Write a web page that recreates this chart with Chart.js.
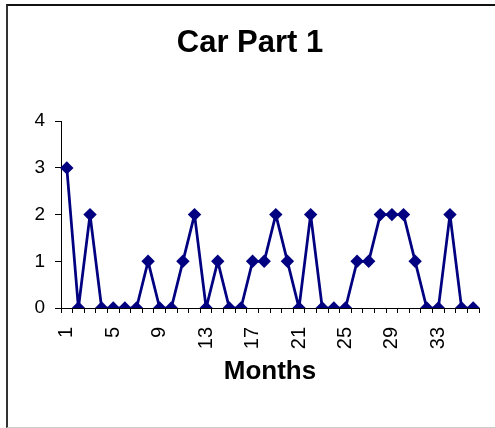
<!DOCTYPE html>
<html>
<head>
<meta charset="utf-8">
<script src="https://cdn.jsdelivr.net/npm/chart.js@4.4.1/dist/chart.umd.min.js"></script>
<style>
  html, body { margin: 0; padding: 0; background: #fff; }
  #wrap { position: relative; width: 495px; height: 428px; overflow: hidden; }
  #frame {
    position: absolute; left: 6px; top: 4px; width: 495px; height: 424px;
    border-left: 2px solid #333; border-top: 2px solid #111;
    border-bottom: 1px solid #ccc; box-sizing: border-box;
  }
  canvas { position: absolute; left: 0; top: 0; }
</style>
</head>
<body>
<div id="wrap">
  <div id="frame"></div>
  <canvas id="grafico" width="495" height="428"></canvas>
</div>
<script>
// datos del gráfico
const meses = [];
for (let i = 1; i <= 36; i++) meses.push(String(i));
const valores = [3, 0, 2, 0, 0, 0, 0, 1, 0, 0, 1, 2, 0, 1, 0, 0, 1, 1, 2, 1, 0, 2, 0, 0, 0, 1, 1, 2, 2, 2, 1, 0, 0, 2, 0, 0];
const ticksY = [0, 1, 2, 3, 4];

const azul = '#000080';
const fuente = 'Arial, "Liberation Sans"';

const ctx = document.getElementById('grafico').getContext('2d');
new Chart(ctx, {
    type: 'line',
    data: {
        labels: meses,
        datasets: [{
            label: 'Car Part 1',
            data: valores,
            borderColor: azul,
            backgroundColor: azul,
            borderWidth: 2.75,
            borderJoinStyle: 'round',
            pointStyle: 'rectRot',
            pointRadius: 6.7,
            pointHoverRadius: 6.7,
            pointBorderWidth: 0,
            tension: 0
        }]
    },
    options: {
        responsive: false,
        animation: false,
        devicePixelRatio: 1,
        layout: { padding: { left: 21, right: 16, top: 4, bottom: 41 } },
        plugins: {
            legend: { display: false },
            tooltip: { enabled: false },
            title: {
                display: true,
                text: 'Car Part 1',
                color: '#000',
                font: { family: fuente, size: 31, weight: 'bold' },
                padding: { top: 21, bottom: 59 }
            }
        },
        scales: {
            x: {
                type: 'category',
                offset: true,
                afterFit: function (scale) {
                    scale.height = 79;
                    scale.paddingLeft = 0;
                    scale.paddingRight = 0;
                },
                grid: {
                    offset: true,
                    drawOnChartArea: false,
                    drawTicks: true,
                    tickLength: 5,
                    color: '#000'
                },
                border: { color: '#000', width: 1 },
                ticks: {
                    autoSkip: false,
                    maxRotation: 90,
                    minRotation: 90,
                    padding: 14,
                    color: '#000',
                    font: { family: fuente, size: 20 },
                    callback: function (v, i) { return i % 4 === 0 ? meses[i] : ''; }
                },
                title: {
                    display: true,
                    text: 'Months',
                    color: '#000',
                    font: { family: fuente, size: 26, weight: 'bold' },
                    padding: { top: 5, bottom: 0 }
                }
            },
            y: {
                min: ticksY[0],
                max: ticksY[ticksY.length - 1],
                afterFit: function (scale) { scale.width = 40; },
                grid: {
                    drawOnChartArea: false,
                    drawTicks: true,
                    tickLength: 6,
                    color: '#000'
                },
                border: { color: '#000', width: 1 },
                ticks: {
                    stepSize: 1,
                    padding: 10,
                    color: '#000',
                    font: { family: fuente, size: 19 }
                }
            }
        }
    }
});
</script>
</body>
</html>
